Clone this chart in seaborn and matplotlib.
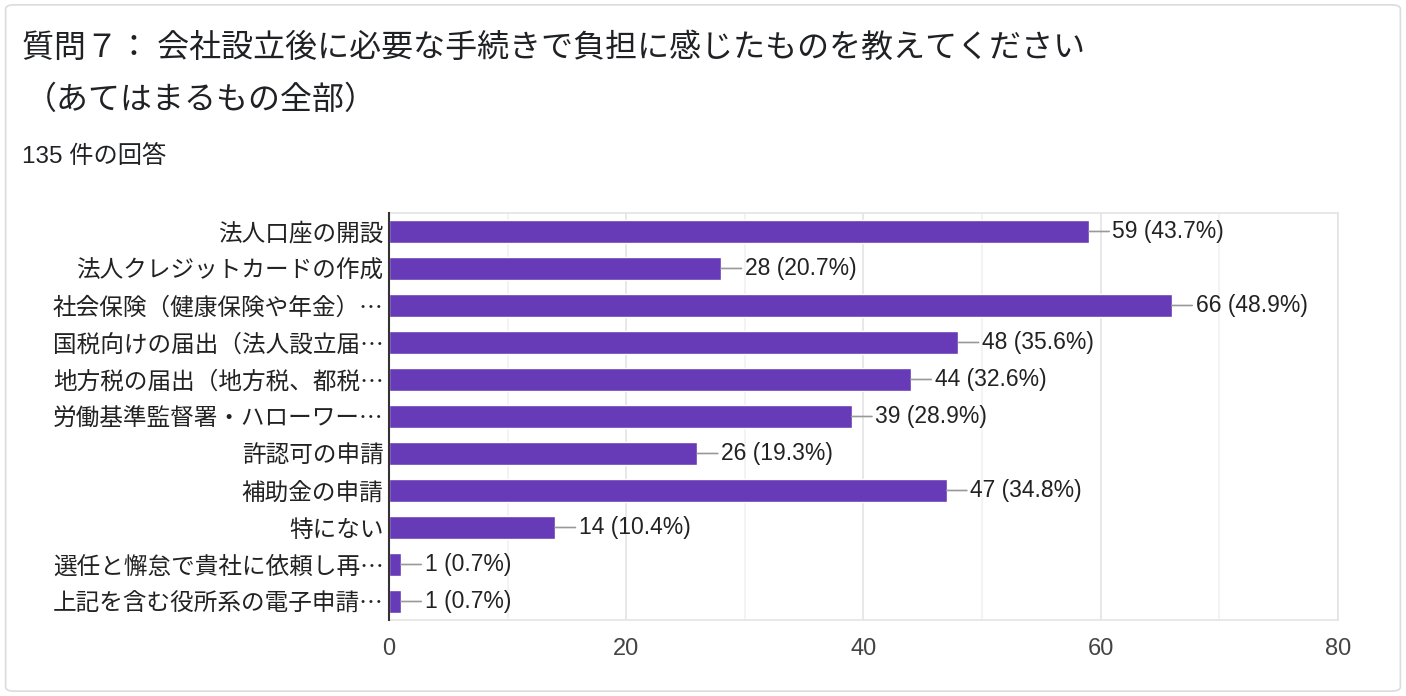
import matplotlib
matplotlib.use("Agg")
import matplotlib.pyplot as plt
import seaborn as sns
import pandas as pd
from matplotlib.patches import FancyBboxPatch
from matplotlib.ticker import MultipleLocator

# データ
categories = [
    "法人口座の開設",
    "法人クレジットカードの作成",
    "社会保険（健康保険や年金）…",
    "国税向けの届出（法人設立届…",
    "地方税の届出（地方税、都税…",
    "労働基準監督署・ハローワー…",
    "許認可の申請",
    "補助金の申請",
    "特にない",
    "選任と懈怠で貴社に依頼し再…",
    "上記を含む役所系の電子申請…",
]
counts = [59, 28, 66, 48, 44, 39, 26, 47, 14, 1, 1]
pct_labels = ["43.7%", "20.7%", "48.9%", "35.6%", "32.6%", "28.9%",
              "19.3%", "34.8%", "10.4%", "0.7%", "0.7%"]
x_ticks = [0, 20, 40, 60, 80]

title_1 = "質問７： 会社設立後に必要な手続きで負担に感じたものを教えてください"
title_2 = "（あてはまるもの全部）"
subtitle = "135 件の回答"

df = pd.DataFrame({"item": categories, "count": counts, "pct": pct_labels})

sns.set_style("white")
plt.rcParams['font.family'] = ['Noto Sans CJK JP', 'DejaVu Sans']
latin = ['Liberation Sans', 'Noto Sans CJK JP']

fig = plt.figure(figsize=(14.06, 6.96), dpi=100)

# 外枠
border = FancyBboxPatch((0.004, 0.007), 0.992, 0.986,
                        boxstyle="round,pad=0,rounding_size=0.006",
                        transform=fig.transFigure, fill=False,
                        edgecolor="#dadce0", linewidth=1.2, zorder=-1)
fig.patches.append(border)

fig.text(0.016, 0.931, title_1, fontsize=23, color="#202124", va="center")
fig.text(0.018, 0.857, title_2, fontsize=23, color="#202124", va="center")
fig.text(0.016, 0.775, subtitle, fontsize=17.5, color="#202124", va="center",
         family=latin)

ax = fig.add_axes([0.2767, 0.1092, 0.6749, 0.5848])
sns.barplot(data=df, x="count", y="item", color="#673ab7", width=0.6,
            saturation=1, ax=ax, zorder=3)

for i, (c, p) in enumerate(zip(counts, pct_labels)):
    ax.annotate(f"{c} ({p})", xy=(c, i), xytext=(17, 0),
                textcoords="offset points", va="center", ha="left",
                fontsize=16.5, color="#222222", family=latin,
                arrowprops=dict(arrowstyle="-", color="#999999", lw=1.2,
                                shrinkA=0, shrinkB=0, relpos=(0, 0.5)))

ax.set_xlim(0, 80)
ax.set_ylim(10.5, -0.5)
ax.set_xticks(x_ticks)
ax.xaxis.set_minor_locator(MultipleLocator(10))
ax.grid(axis="x", which="major", color="#e4e4e4", lw=1.2, zorder=0)
ax.grid(axis="x", which="minor", color="#f1f1f1", lw=1.2, zorder=0)
ax.set_xlabel("")
ax.set_ylabel("")
ax.tick_params(axis="y", length=0, labelsize=17, labelcolor="#222222", pad=4)
ax.tick_params(axis="x", which="both", length=0, labelsize=17,
               labelcolor="#444444", pad=13)
for t in ax.get_xticklabels():
    t.set_fontfamily(latin)
for s in ["top", "right", "bottom"]:
    ax.spines[s].set_color("#e4e4e4")
    ax.spines[s].set_linewidth(1.2)
ax.spines["left"].set_color("#333333")
ax.spines["left"].set_linewidth(1.5)
ax.spines["left"].set_zorder(5)

fig.savefig("out.png", dpi=100)
